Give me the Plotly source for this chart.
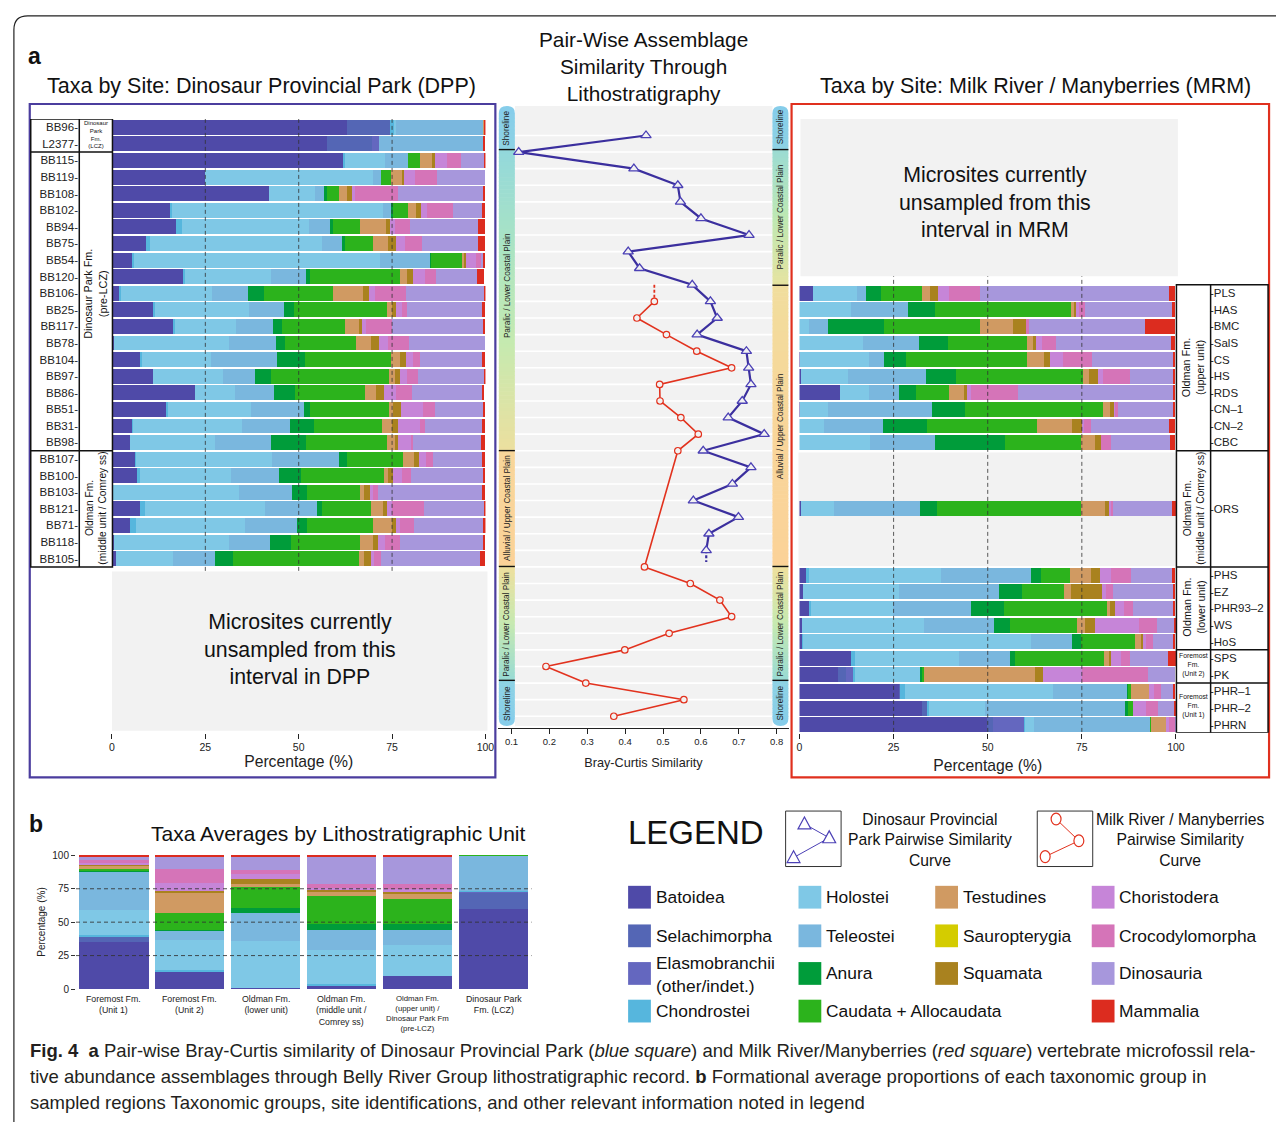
import numpy as np
import plotly.graph_objects as go

W, H = 1285, 1128
FONT = "Liberation Sans"

# ---------------- data ----------------
taxa = ["Batoidea", "Selachimorpha", "Elasmobranchii<br>(other/indet.)", "Chondrostei",
        "Holostei", "Teleostei", "Anura", "Caudata + Allocaudata", "Testudines",
        "Sauropterygia", "Squamata", "Choristodera", "Crocodylomorpha", "Dinosauria", "Mammalia"]
taxa_colors = ["#4f4aa8", "#5466b5", "#6467bf", "#56b6dd", "#7fc8e6", "#7ab7de", "#009c3a",
               "#2cb31c", "#d09a62", "#d4cc00", "#a9821f", "#c685d8", "#d574b8", "#a797dc", "#dc2c1f"]

dpp_sites = ["BB96", "L2377", "BB115", "BB119", "BB108", "BB102", "BB94", "BB75", "BB54",
             "BB120", "BB106", "BB25", "BB117", "BB78", "BB104", "BB97", "BB86", "BB51",
             "BB31", "BB98", "BB107", "BB100", "BB103", "BB121", "BB71", "BB118", "BB105"]
# percentages per site: Bat, Sel, Elas, Chond, Hol, Tel, Anura, Caud, Test, Saur, Squam, Chor, Croc, Dino, Mamm
dpp_values = [
    [62.8, 11.6, 0, 1.0, 0.6, 23.4, 0, 0, 0.3, 0, 0, 0, 0, 0, 0.3],
    [57.6, 12.1, 1.8, 0, 0, 28.0, 0, 0, 0, 0, 0, 0, 0, 0, 0.5],
    [62.0, 0, 0, 0.5, 10.6, 6.1, 0, 3.2, 3.2, 0, 0.8, 3.4, 3.7, 6.2, 0.3],
    [24.9, 0, 0, 0, 45.1, 2.1, 0, 2.6, 3.1, 0, 0.3, 3.0, 5.8, 13.1, 0],
    [42.0, 0, 0, 0, 12.4, 2.4, 0.8, 3.1, 2.2, 0, 1.3, 0.8, 11.6, 22.9, 0.5],
    [15.6, 0, 0, 0.5, 56.4, 2.4, 0.3, 4.1, 2.2, 0, 1.3, 1.6, 6.9, 7.9, 0.8],
    [17.2, 0, 0, 1.6, 34.0, 5.8, 0.5, 7.3, 6.9, 0, 1.1, 1.3, 4.2, 18.2, 1.8],
    [9.1, 0, 0, 1.1, 46.1, 5.5, 0.5, 7.6, 4.0, 0, 2.1, 2.4, 4.7, 15.0, 1.8],
    [5.4, 0, 0, 0.5, 65.9, 13.4, 0.3, 8.4, 0.5, 0, 0.5, 2.6, 1.3, 0.8, 0.2],
    [19.1, 0, 0, 0.5, 22.9, 9.5, 1.1, 24.0, 1.8, 0, 1.6, 3.4, 2.9, 10.8, 2.1],
    [1.8, 0, 0, 0.6, 24.3, 9.8, 4.2, 18.5, 7.9, 0, 1.6, 1.8, 8.2, 21.1, 0.2],
    [11.2, 0, 0, 0.3, 25.3, 9.2, 2.6, 25.0, 1.3, 0, 1.1, 1.6, 1.3, 20.3, 0.8],
    [16.4, 0, 0, 0.5, 16.3, 9.8, 2.4, 17.1, 3.7, 0, 0.8, 1.1, 6.9, 24.3, 0.7],
    [0.5, 0, 0, 0, 30.7, 12.7, 2.4, 19.0, 4.0, 0, 2.1, 2.4, 5.8, 20.4, 0],
    [7.5, 0, 0, 0.5, 18.5, 17.7, 7.4, 23.2, 2.4, 0, 1.6, 1.8, 1.8, 16.6, 1.0],
    [10.9, 0, 0, 0, 18.7, 8.7, 4.2, 31.6, 1.6, 0, 1.3, 2.1, 2.9, 17.7, 0.3],
    [22.2, 0, 0, 0, 10.8, 10.3, 5.8, 18.7, 2.9, 0, 2.1, 3.2, 4.2, 19.0, 0.5],
    [14.6, 0, 0, 0.5, 22.1, 14.2, 1.6, 21.1, 1.1, 0, 2.1, 6.1, 3.2, 12.7, 0.6],
    [5.4, 0, 0, 0.3, 29.0, 12.9, 6.6, 18.2, 2.6, 0, 1.6, 5.8, 1.3, 15.3, 0.9],
    [4.8, 0, 0, 0, 22.7, 15.0, 9.5, 21.6, 2.4, 0, 0.5, 3.7, 0.5, 18.2, 1.0],
    [6.2, 0, 0, 0.3, 36.4, 17.9, 2.1, 15.0, 2.9, 0, 1.3, 2.1, 1.8, 13.2, 0.7],
    [6.9, 0, 0, 0.5, 24.5, 12.9, 5.8, 22.1, 1.3, 0, 1.3, 2.4, 2.4, 19.2, 0.6],
    [0.3, 0, 0, 0, 33.8, 14.0, 4.0, 14.2, 1.1, 0, 1.8, 0.8, 1.3, 27.9, 0.7],
    [7.5, 0, 0, 1.3, 32.2, 14.0, 1.1, 13.2, 3.2, 0, 1.1, 1.3, 8.7, 16.1, 0.5],
    [4.8, 0, 0, 1.6, 29.3, 13.7, 2.9, 17.7, 5.0, 0, 1.1, 1.1, 3.7, 18.5, 0.8],
    [0.5, 0, 0, 0, 30.7, 11.1, 5.5, 18.7, 3.4, 0, 1.3, 1.8, 4.0, 22.4, 0.5],
    [1.1, 0, 0, 0, 15.1, 11.3, 5.0, 33.5, 1.6, 0, 1.8, 0.8, 1.8, 26.4, 1.6],
]

mrm_sites = ["PLS", "HAS", "BMC", "SalS", "CS", "HS", "RDS", "CN\u20131", "CN\u20132", "CBC",
             "ORS", "PHS", "EZ", "PHR93\u20132", "WS", "HoS", "SPS", "PK", "PHR\u20131", "PHR\u20132", "PHRN"]
mrm_values = [
    [3.7, 0, 0, 0, 11.6, 2.4, 4.2, 10.8, 2.1, 0, 2.1, 2.9, 8.4, 50.0, 1.7],
    [0, 0, 0, 0, 13.7, 15.2, 7.1, 36.5, 0.5, 0, 0.8, 0.5, 1.6, 23.1, 0.9],
    [0, 0, 0, 0, 2.6, 5.0, 15.0, 25.5, 8.7, 0, 3.7, 0, 0.5, 30.8, 8.2],
    [0, 0, 0, 0, 17.1, 14.7, 7.9, 20.8, 1.6, 0, 0.8, 1.6, 3.9, 30.5, 1.1],
    [0.3, 0, 0, 0, 18.4, 3.9, 5.8, 32.1, 4.7, 0, 1.6, 3.2, 7.9, 21.6, 0.5],
    [0.5, 0, 0, 0, 12.4, 20.8, 7.9, 33.9, 1.6, 0, 2.4, 1.3, 7.1, 11.6, 0.5],
    [10.8, 0, 0, 0, 7.9, 7.9, 4.5, 8.7, 3.9, 0, 0.8, 1.1, 12.6, 41.3, 0.5],
    [0.3, 0, 0, 0, 7.4, 27.6, 8.7, 36.8, 1.8, 0, 1.1, 0.3, 0.8, 14.7, 0.5],
    [0, 0, 0, 0, 6.6, 15.8, 11.6, 29.2, 9.2, 0, 2.9, 0.5, 1.8, 20.8, 1.6],
    [0, 0, 0, 0, 18.9, 17.1, 18.7, 20.2, 3.7, 0, 1.6, 0, 2.6, 15.8, 1.4],
    [0.5, 0, 0, 0, 8.7, 22.9, 4.5, 38.4, 6.3, 0, 1.1, 0.5, 0.5, 15.8, 1.1],
    [1.8, 0, 0, 0.8, 35.0, 23.9, 2.9, 7.6, 5.5, 0, 2.4, 2.9, 5.3, 11.0, 0.9],
    [1.1, 0, 0, 0, 25.5, 26.6, 6.0, 11.3, 1.8, 0, 8.2, 1.1, 1.8, 16.0, 0.6],
    [2.9, 0, 0, 0.3, 21.8, 20.8, 8.7, 27.3, 0.8, 0, 1.3, 2.4, 2.4, 10.8, 0.5],
    [0.8, 0, 0, 0, 32.3, 18.7, 4.2, 17.9, 2.1, 0, 2.6, 11.8, 4.7, 4.7, 0.3],
    [0.8, 0, 0, 0.3, 60.5, 10.8, 2.6, 14.2, 1.8, 0, 0.5, 0.8, 1.8, 5.5, 0.4],
    [13.7, 0, 0, 1.1, 27.6, 13.7, 1.3, 23.7, 1.3, 0, 0.5, 2.6, 2.4, 10.0, 2.2],
    [10.3, 2.1, 2.1, 0.3, 17.6, 0, 0.3, 0.5, 29.4, 0, 2.1, 10.5, 17.6, 7.2, 0],
    [26.6, 0.3, 0, 1.3, 39.4, 19.7, 0.3, 0.5, 4.9, 0, 0, 1.4, 1.8, 3.3, 0.2],
    [32.6, 1.6, 0, 0.3, 15.0, 37.3, 0.5, 1.5, 0, 0, 0, 3.4, 3.2, 4.4, 0.2],
    [50.0, 1.6, 8.2, 0.3, 2.4, 30.8, 0, 0.3, 3.9, 0, 0, 0.8, 1.6, 0.3, 0.1],
]

# stratigraphic columns, top to bottom (None = interval with no sampled microsite)
dpp_column = dpp_sites + [None] * 10
mrm_column = [None] * 10 + mrm_sites[:10] + [None] * 3 + ["ORS"] + [None] * 3 + mrm_sites[11:]

# pair-wise Bray-Curtis similarity between consecutive sites
dpp_similarity = [0.455, 0.119, 0.423, 0.539, 0.546, 0.600, 0.727, 0.408, 0.438, 0.577,
                  0.625, 0.643, 0.590, 0.720, 0.726, 0.732, 0.709, 0.672, 0.767, 0.606,
                  0.732, 0.683, 0.580, 0.699, 0.621, 0.614]
mrm_similarity = [0.477, 0.431, 0.509, 0.589, 0.681, 0.491, 0.492, 0.547, 0.593, 0.539,
                  0.451, 0.572, 0.650, 0.681, 0.516, 0.399, 0.191, 0.296, 0.555, 0.370]

unit_labels = ["Foremost Fm.<br>(Unit 1)", "Foremost Fm.<br>(Unit 2)", "Oldman Fm.<br>(lower unit)",
               "Oldman Fm.<br>(middle unit /<br>Comrey ss)",
               "Oldman Fm.<br>(upper unit) /<br>Dinosaur Park Fm<br>(pre-LCZ)",
               "Dinosaur Park<br>Fm. (LCZ)"]
unit_values = [
    [35.2, 4.4, 0, 0.7, 19.2, 28.8, 0.7, 0.7, 3.0, 0, 0.7, 0.7, 2.2, 2.7, 0.7],
    [13.1, 0, 0, 1.0, 22.7, 6.7, 0.7, 12.6, 15.5, 0, 0.7, 6.7, 10.3, 8.6, 1.5],
    [0.7, 0, 0, 0, 35.2, 20.7, 4.4, 15.5, 2.2, 0, 3.7, 3.7, 3.0, 10.1, 0.7],
    [3.0, 0, 0, 0.7, 25.6, 14.8, 4.4, 21.4, 3.0, 0, 1.5, 1.5, 3.0, 20.0, 0.7],
    [10.1, 0, 0, 0, 22.9, 11.1, 4.4, 19.2, 3.7, 0, 1.5, 2.2, 3.7, 19.7, 1.5],
    [59.6, 12.6, 0.5, 0.5, 0, 26.6, 0, 0.5, 0, 0, 0, 0, 0, 0, 0.7],
]

# ---------------- helpers ----------------
def X(p):
    return p / W


def Y(p):
    return 1 - p / H


def ann(text, x, y, size, color="#111", xanchor="center", yanchor="middle", angle=0, align="center"):
    return dict(text=text, x=X(x), y=Y(y), xref="paper", yref="paper", showarrow=False,
                font=dict(size=size, color=color, family=FONT), xanchor=xanchor,
                yanchor=yanchor, textangle=angle, align=align)


def hex2rgb(h):
    h = h.lstrip("#")
    return [int(h[i:i + 2], 16) for i in (0, 2, 4)]


def grad_color(stops, y):
    for (y0, c0), (y1, c1) in zip(stops[:-1], stops[1:]):
        if y0 <= y <= y1 and y1 > y0:
            t = (y - y0) / (y1 - y0)
            a, b = hex2rgb(c0), hex2rgb(c1)
            return "rgb(%d,%d,%d)" % tuple(round(a[i] + (b[i] - a[i]) * t) for i in range(3))
    return stops[-1][1]


dpp_rows = [dpp_column.index(s) for s in dpp_sites]
mrm_rows = [mrm_column.index(s) for s in mrm_sites]
dpp_pair_y = [(a + b) / 2 for a, b in zip(dpp_rows[:-1], dpp_rows[1:])]
mrm_pair_y = [a + 0.5 if mrm_column[a] != "ORS" else b - 0.5
              for a, b in zip(mrm_rows[:-1], mrm_rows[1:])]

fig = go.Figure()

# ---------------- stacked bars ----------------
for j, col in enumerate(taxa_colors):
    fig.add_trace(go.Bar(x=[v[j] for v in dpp_values], y=dpp_rows, orientation="h",
                         marker=dict(color=col, line=dict(width=0)), width=0.9,
                         xaxis="x", yaxis="y", hoverinfo="skip"))
    fig.add_trace(go.Bar(x=[v[j] for v in mrm_values], y=mrm_rows, orientation="h",
                         marker=dict(color=col, line=dict(width=0)), width=0.9,
                         xaxis="x3", yaxis="y3", hoverinfo="skip"))
    fig.add_trace(go.Bar(x=list(range(len(unit_labels))), y=[v[j] for v in unit_values],
                         marker=dict(color=col, line=dict(width=0)), width=0.91,
                         xaxis="x4", yaxis="y4", hoverinfo="skip"))

# ---------------- similarity curves ----------------
DPP_C, MRM_C = "#3b2f9e", "#e2321e"
fig.add_trace(go.Scatter(x=[dpp_similarity[-1]] * 2, y=[dpp_pair_y[-1], dpp_pair_y[-1] + 0.7],
                         mode="lines", line=dict(color=DPP_C, width=2.2, dash="3px,2px"),
                         xaxis="x2", yaxis="y2"))
fig.add_trace(go.Scatter(x=[mrm_similarity[0]] * 2, y=[mrm_pair_y[0] - 1, mrm_pair_y[0]],
                         mode="lines", line=dict(color=MRM_C, width=1.8, dash="3px,2px"),
                         xaxis="x2", yaxis="y2"))
fig.add_trace(go.Scatter(x=dpp_similarity, y=dpp_pair_y, mode="lines+markers",
                         line=dict(color=DPP_C, width=2.2),
                         marker=dict(symbol="triangle-up", size=9, color="#f2f2f2",
                                     line=dict(color="#4b40b5", width=1.3)),
                         xaxis="x2", yaxis="y2"))
fig.add_trace(go.Scatter(x=mrm_similarity, y=mrm_pair_y, mode="lines+markers",
                         line=dict(color=MRM_C, width=1.6),
                         marker=dict(symbol="circle", size=6.5, color="#f2f2f2",
                                     line=dict(color=MRM_C, width=1.2)),
                         xaxis="x2", yaxis="y2"))

# ---------------- shapes ----------------
shapes = []


def rect(x0, y0, x1, y1, fill=None, line=None, lw=0, layer="above"):
    d = dict(type="rect", xref="paper", yref="paper", layer=layer,
             x0=X(x0), x1=X(x1), y0=Y(y0), y1=Y(y1),
             line=dict(width=lw, color=line or "rgba(0,0,0,0)"))
    if fill:
        d["fillcolor"] = fill
    return d


def hline(x0, x1, y, color="#111", w=1.5, yref="paper", layer="above"):
    return dict(type="line", xref="paper", yref=yref, x0=X(x0), x1=X(x1),
                y0=Y(y) if yref == "paper" else y, y1=Y(y) if yref == "paper" else y,
                line=dict(color=color, width=w), layer=layer)


def vline(x, y0, y1, color="#111", w=1.5, yref="paper", layer="above"):
    return dict(type="line", xref="paper", yref=yref, x0=X(x), x1=X(x),
                y0=Y(y0) if yref == "paper" else y0, y1=Y(y1) if yref == "paper" else y1,
                line=dict(color=color, width=w), layer=layer)


def capsule_end(x0, x1, y_flat, y_round, color):
    """Rounded end of a ribbon: flat edge at y_flat, rounded edge at y_round."""
    r = (x1 - x0) / 2
    d = 1 if y_round > y_flat else -1
    yc = y_round - d * r * 0.9
    p = "M %f,%f L %f,%f Q %f,%f %f,%f Q %f,%f %f,%f L %f,%f Z" % (
        X(x0), Y(y_flat), X(x0), Y(yc), X(x0), Y(y_round), X(x0 + r), Y(y_round),
        X(x1), Y(y_round), X(x1), Y(yc), X(x1), Y(y_flat))
    return dict(type="path", xref="paper", yref="paper", path=p, fillcolor=color,
                line=dict(width=0), layer="below")


# outer rounded frame
shapes.append(dict(type="path", xref="paper", yref="paper", layer="above",
                   path="M %f,%f L %f,%f Q %f,%f %f,%f L %f,%f" % (
                       X(11), Y(1128), X(11), Y(25), X(11), Y(11), X(25), Y(11), X(1285), Y(11)),
                   line=dict(color="#222", width=1.2)))
# panel boxes
shapes.append(rect(27, 100, 497, 780, line="#4b3d9e", lw=2.2))
shapes.append(rect(796, 100, 1278, 780, line="#e0301e", lw=2.2))

# middle background, row lines and ribbons
shapes.append(rect(516.7, 102, 776.7, 728, fill="#f2f2f2", layer="below"))
for k in range(36):
    shapes.append(dict(type="line", xref="paper", yref="y2", x0=X(516.7), x1=X(776.7),
                       y0=k + 0.5, y1=k + 0.5, line=dict(color="white", width=1.6), layer="below"))

left_stops = [(102, "#86cdea"), (146, "#8dd2e4"), (146.01, "#93d8dc"), (240, "#a9e3c4"),
              (340, "#c5eab0"), (449, "#ecdf9f"), (450, "#f8d69a"), (567, "#fbd298"),
              (567.01, "#eedf9d"), (625, "#c6e9b1"), (682, "#98dad4"), (682.01, "#8dd2e4"),
              (728, "#86cdea")]
right_stops = [(102, "#86cdea"), (146, "#8dd2e4"), (146.01, "#9bdbd3"), (215, "#bee8b3"),
               (283, "#e6e3a0"), (283.01, "#f1dd9d"), (420, "#f8d69a"), (567, "#fbd298"),
               (567.01, "#eedf9d"), (625, "#c6e9b1"), (682, "#98dad4"), (682.01, "#8dd2e4"),
               (728, "#86cdea")]
step = 4
for (xa, xb, stops) in [(500.5, 516.7, left_stops), (776.7, 792.8, right_stops)]:
    shapes.append(capsule_end(xa, xb, 110, 102, stops[0][1]))
    shapes.append(capsule_end(xa, xb, 720, 728, stops[-1][1]))
    for yy in np.arange(110, 720, step):
        y1 = min(yy + step + 0.6, 720)
        shapes.append(rect(xa, yy, xb, y1, fill=grad_color(stops, yy + step / 2), layer="below"))
for yb in [146, 450, 567, 682]:
    shapes.append(hline(500.5, 516.7, yb, w=1.4, layer="below"))
for yb in [146, 283, 567, 682]:
    shapes.append(hline(776.7, 792.8, yb, w=1.4, layer="below"))

# ORS interval background (MRM)
shapes.append(dict(type="rect", xref="paper", yref="y3", x0=X(803), x1=X(1185), y0=19.6, y1=26.45,
                   fillcolor="#f2f2f2", line=dict(width=0), layer="below"))

# dashed reference lines at 25/50/75 %
for v in [25, 50, 75]:
    shapes.append(dict(type="line", xref="x", yref="y", x0=v, x1=v, y0=-0.5, y1=26.9,
                       line=dict(color="rgba(50,50,50,0.8)", width=1, dash="4px,3px"), layer="above"))
    shapes.append(dict(type="line", xref="x3", yref="y3", x0=v, x1=v, y0=-0.5, y1=36.5,
                       line=dict(color="rgba(50,50,50,0.8)", width=1, dash="4px,3px"), layer="above"))
    shapes.append(dict(type="line", xref="x4 domain", yref="y4", x0=0, x1=1, y0=v, y1=v,
                       line=dict(color="rgba(50,50,50,0.85)", width=1, dash="4px,3px"), layer="above"))

# "unsampled" grey boxes (cover the dashed lines)
shapes.append(rect(110, 572, 489, 733, fill="#f2f2f2", layer="above"))
shapes.append(rect(805, 115, 1186, 274, fill="#f2f2f2", layer="above"))

# DPP formation table
shapes.append(dict(type="rect", xref="paper", yref="y", x0=X(28), x1=X(110.5), y0=-0.5, y1=26.5,
                   line=dict(color="#111", width=1.5), layer="above"))
shapes.append(vline(77, -0.5, 26.5, yref="y"))
for yb in [1.5, 19.5]:
    shapes.append(hline(28, 110.5, yb, yref="y"))
# MRM formation table
shapes.append(dict(type="rect", xref="paper", yref="y3", x0=X(1184.5), x1=X(1277), y0=9.5, y1=36.5,
                   line=dict(color="#111", width=1.5), layer="above"))
shapes.append(vline(1219, 9.5, 36.5, yref="y3"))
for yb in [19.5, 26.5, 31.5, 33.5]:
    shapes.append(hline(1184.5, 1277, yb, yref="y3"))

# legend swatches
sw_x = [631, 803, 941, 1099]
sw_y = [901, 940, 978, 1016]
legend_slots = [(0, 0), (0, 1), (0, 2), (0, 3), (1, 0), (1, 1), (1, 2), (1, 3),
                (2, 0), (2, 1), (2, 2), (3, 0), (3, 1), (3, 2), (3, 3)]
for (c, r), col in zip(legend_slots, taxa_colors):
    shapes.append(rect(sw_x[c], sw_y[r] - 11.5, sw_x[c] + 23, sw_y[r] + 11.5, fill=col))

# legend curve icons
shapes.append(rect(790, 814, 846, 870, line="#333", lw=1))
shapes.append(rect(1044, 814, 1100, 870, line="#333", lw=1))
tri = [(809, 827), (834, 841), (798, 861)]
for (xa, ya), (xb, yb) in zip(tri[:-1], tri[1:]):
    shapes.append(dict(type="line", xref="paper", yref="paper", x0=X(xa), y0=Y(ya), x1=X(xb), y1=Y(yb),
                       line=dict(color="#4b40b5", width=1)))
for (xc, yc) in tri:
    shapes.append(dict(type="path", xref="paper", yref="paper",
                       path="M %f,%f L %f,%f L %f,%f Z" % (X(xc), Y(yc - 7), X(xc - 6.5), Y(yc + 5),
                                                           X(xc + 6.5), Y(yc + 5)),
                       fillcolor="white", line=dict(color="#4b40b5", width=1.2)))
circ = [(1063, 822), (1086, 844), (1052, 860)]
for (xa, ya), (xb, yb) in zip(circ[:-1], circ[1:]):
    shapes.append(dict(type="line", xref="paper", yref="paper", x0=X(xa), y0=Y(ya), x1=X(xb), y1=Y(yb),
                       line=dict(color=MRM_C, width=1)))
for (xc, yc) in circ:
    shapes.append(dict(type="circle", xref="paper", yref="paper", x0=X(xc - 5), x1=X(xc + 5),
                       y0=Y(yc - 6), y1=Y(yc + 6), fillcolor="white",
                       line=dict(color=MRM_C, width=1.2)))

# ---------------- annotations ----------------
A = []
A.append(ann("<b>a</b>", 32, 52, 23))
A.append(ann("<b>b</b>", 33, 827, 23))
A.append(ann("Taxa by Site: Dinosaur Provincial Park (DPP)", 261, 82, 21.5))
A.append(ann("Taxa by Site: Milk River / Manyberries (MRM)", 1042, 82, 21.5))
A.append(ann("Pair-Wise Assemblage<br>Similarity Through<br>Lithostratigraphy", 647, 62, 20.8))
A.append(ann("Microsites currently<br>unsampled from this<br>interval in DPP", 300, 651, 21.3))
A.append(ann("Microsites currently<br>unsampled from this<br>interval in MRM", 1001, 199, 21.3))
A.append(ann("Taxa Averages by Lithostratigraphic Unit", 338, 837, 21))

# formation labels
A.append(ann("Dinosaur<br>Park<br>Fm.<br>(LCZ)", 94, 131, 6))
A.append(ann("Dinosaur Park Fm.<br>(pre-LCZ)", 93.5, 292, 10.8, angle=-90))
A.append(ann("Oldman Fm.<br>(middle unit / Comrey ss)", 93.5, 508, 10.2, angle=-90))
A.append(ann("Oldman Fm.<br>(upper unit)", 1202, 366, 10.8, angle=-90))
A.append(ann("Oldman Fm.<br>(middle unit / Comrey ss)", 1202, 508, 10.2, angle=-90))
A.append(ann("Oldman Fm.<br>(lower unit)", 1202, 608, 10.8, angle=-90))
A.append(ann("Foremost<br>Fm.<br>(Unit 2)", 1202, 667, 6.8))
A.append(ann("Foremost<br>Fm.<br>(Unit 1)", 1202, 708, 6.8))

# ribbon labels
for txt, yy in [("Shoreline", 124), ("Paralic / Lower Coastal Plain", 283),
                ("Alluvial / Upper Coastal Plain", 508), ("Paralic / Lower Coastal Plain", 625),
                ("Shoreline", 705)]:
    A.append(ann(txt, 508.6, yy, 8.2, color="#222", angle=-90))
for txt, yy in [("Shoreline", 123), ("Paralic / Lower Coastal Plain", 214),
                ("Alluvial / Upper Coastal Plain", 425), ("Paralic / Lower Coastal Plain", 625),
                ("Shoreline", 705)]:
    A.append(ann(txt, 784.8, yy, 8.2, color="#222", angle=-90))

# panel b category labels
for i, lab in enumerate(unit_labels):
    size = 7.8 if lab.count("<br>") >= 3 else 8.8
    A.append(dict(text=lab, x=i, xref="x4", y=Y(997), yref="paper", yanchor="top", showarrow=False,
                  font=dict(size=size, color="#222", family=FONT)))

# legend
A.append(ann("LEGEND", 629, 836, 33, xanchor="left"))
A.append(ann("Dinosaur Provincial<br>Park Pairwise Similarity<br>Curve", 936, 843, 15.7))
A.append(ann("Milk River / Manyberries<br>Pairwise Similarity<br>Curve", 1188, 843, 15.7))
for (c, r), name in zip(legend_slots, taxa):
    A.append(ann(name, sw_x[c] + 26, sw_y[r] + (1 if "<br>" in name else 0), 17.4,
                 xanchor="left", align="left"))

# caption
cap = [
    "<b>Fig. 4</b>  <b>a</b> Pair-wise Bray-Curtis similarity of Dinosaur Provincial Park (<i>blue square</i>) "
    "and Milk River/Manyberries (<i>red square</i>) vertebrate microfossil rela-",
    "tive abundance assemblages through Belly River Group lithostratigraphic record. <b>b</b> Formational "
    "average proportions of each taxonomic group in",
    "sampled regions Taxonomic groups, site identifications, and other relevant information noted in legend",
]
for k, line in enumerate(cap):
    A.append(ann(line, 25, 1056 + 26 * k, 18.5, color="#231f20", xanchor="left", align="left"))

# ---------------- layout ----------------
axis_font = dict(family=FONT, color="#222")
fig.update_layout(
    width=W, height=H, autosize=False, margin=dict(l=0, r=0, t=0, b=0),
    paper_bgcolor="white", plot_bgcolor="rgba(0,0,0,0)", showlegend=False,
    barmode="stack", bargap=0, font=dict(family=FONT, color="#111"),
    xaxis=dict(domain=[X(110), X(487)], anchor="y", range=[0, 100], tickvals=[0, 25, 50, 75, 100],
               ticks="outside", ticklen=5, tickcolor="#222", showgrid=False, zeroline=False,
               showline=False, tickfont=dict(size=10.5, **axis_font),
               title=dict(text="Percentage (%)", font=dict(size=15.7, **axis_font), standoff=3)),
    yaxis=dict(domain=[Y(735), Y(115)], anchor="x", range=[36.5, -0.5], tickvals=dpp_rows,
               ticktext=[s + "-" for s in dpp_sites], ticks="", showgrid=False, zeroline=False,
               showline=False, ticklabelstandoff=33, tickfont=dict(size=11.5, **axis_font)),
    xaxis2=dict(domain=[X(500), X(793)], anchor="y2", range=[0.0652, 0.8314],
                tickvals=[0.1, 0.2, 0.3, 0.4, 0.5, 0.6, 0.7, 0.8],
                ticktext=["0.1", "0.2", "0.3", "0.4", "0.5", "0.6", "0.7", "0.8"],
                ticks="outside", ticklen=5, tickcolor="#222", showline=True, linecolor="#222",
                linewidth=1, showgrid=False, zeroline=False, tickfont=dict(size=9.5, **axis_font),
                title=dict(text="Bray-Curtis Similarity", font=dict(size=12.7, **axis_font), standoff=11)),
    yaxis2=dict(domain=[Y(730), Y(115)], anchor="x2", range=[36.2, -0.5],
                showticklabels=False, ticks="", showgrid=False, zeroline=False, showline=False),
    xaxis3=dict(domain=[X(804), X(1184)], anchor="y3", range=[0, 100], tickvals=[0, 25, 50, 75, 100],
                ticks="outside", ticklen=5, tickcolor="#222", showgrid=False, zeroline=False,
                showline=False, tickfont=dict(size=10.5, **axis_font),
                title=dict(text="Percentage (%)", font=dict(size=15.7, **axis_font), standoff=7)),
    yaxis3=dict(domain=[Y(735), Y(115)], anchor="x3", side="right", range=[36.5, -0.5],
                tickvals=mrm_rows, ticktext=["-" + s for s in mrm_sites], ticks="", showgrid=False,
                zeroline=False, showline=False, ticklabelstandoff=33,
                tickfont=dict(size=11.5, **axis_font)),
    xaxis4=dict(domain=[X(73.7), X(533.5)], anchor="y4", range=[-0.5, 5.5], showticklabels=False,
                ticks="", showgrid=False, zeroline=False, showline=False),
    yaxis4=dict(domain=[Y(993.7), Y(858.3)], anchor="x4", range=[0, 100.3],
                tickvals=[0, 25, 50, 75, 100], ticks="outside", ticklen=4, tickcolor="#333",
                showgrid=False, zeroline=False, showline=False, tickfont=dict(size=10, **axis_font),
                title=dict(text="Percentage (%)", font=dict(size=10, **axis_font), standoff=4)),
    shapes=shapes,
    annotations=A,
)

page_fix = ("document.documentElement.style.margin='0px';document.documentElement.style.overflow='hidden';"
            "document.body.style.margin='0px';document.body.style.padding='0px';"
            "document.body.style.overflow='hidden';")
fig.write_html("out.html", config={"displayModeBar": False}, post_script=page_fix)
